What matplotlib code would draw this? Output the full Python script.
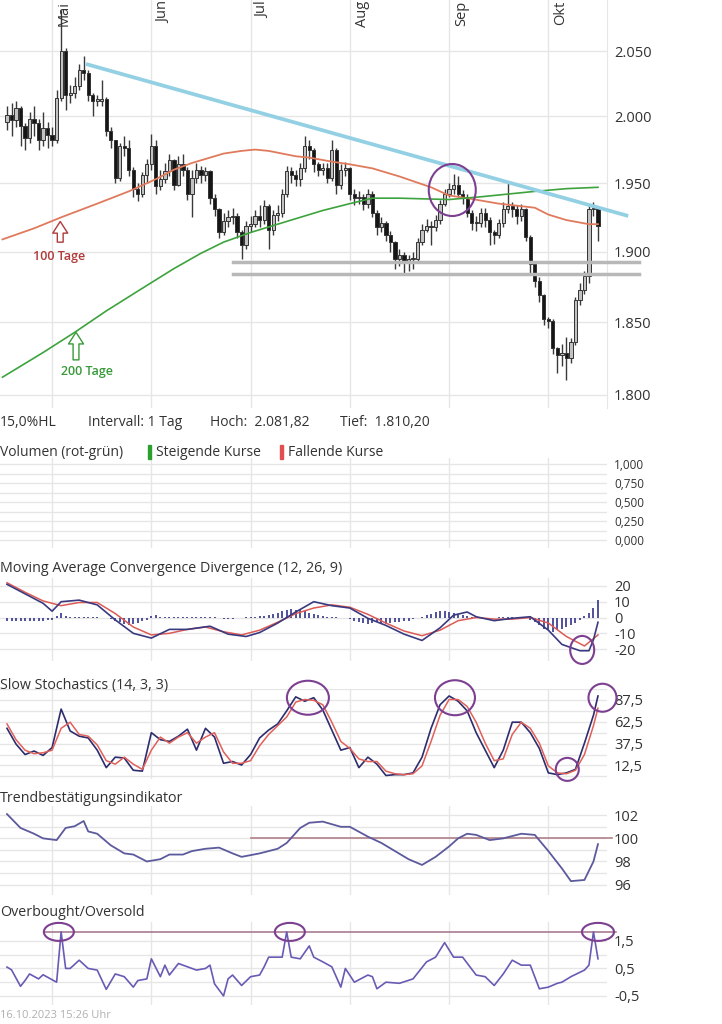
import matplotlib
matplotlib.use("Agg")
import matplotlib.pyplot as plt
from matplotlib.patches import Ellipse, Rectangle
from matplotlib.transforms import IdentityTransform

plt.rcParams['font.family'] = ['Open Sans', 'DejaVu Sans']

# Tageskerzen, Index 0 = erster Handelstag im Chart (Mitte April 2023)
first_open = 1996
close_px = [2001, 1997, 2006, 1993, 1984, 1998, 1995, 1982, 1991, 1986,
            1982, 2014, 2050, 2016, 2018, 2023, 2035, 2033, 2016, 2012,
            2012, 2013, 1989, 1982, 1954, 1978, 1976, 1960, 1946, 1942,
            1956, 1964, 1978, 1948, 1953, 1959, 1967, 1949, 1964, 1960,
            1942, 1954, 1960, 1956, 1959, 1939, 1931, 1914, 1922, 1925,
            1926, 1914, 1905, 1919, 1920, 1926, 1923, 1933, 1916, 1927,
            1928, 1942, 1959, 1956, 1953, 1961, 1978, 1975, 1964, 1960,
            1961, 1954, 1975, 1949, 1960, 1961, 1942, 1939, 1940, 1935,
            1942, 1928, 1918, 1921, 1912, 1907, 1895, 1898, 1893, 1895,
            1895, 1907, 1916, 1919, 1918, 1923, 1935, 1942, 1946, 1949,
            1942, 1940, 1928, 1921, 1921, 1928, 1923, 1914, 1912, 1921,
            1931, 1933, 1931, 1926, 1931, 1911, 1891, 1879, 1869, 1852,
            1851, 1832, 1827, 1829, 1825, 1836, 1866, 1873, 1883, 1931,
            1932, 1919]
high_px = [2008, 2010, 2012, 2008, 1995, 2003, 2008, 1998, 2003, 1996,
           1992, 2020, 2081.82, 2052, 2024, 2030, 2040, 2046, 2035, 2018,
           2016, 2028, 2015, 1992, 1982, 1980, 1985, 1982, 1962, 1950,
           1958, 1968, 1987, 1982, 1960, 1965, 1972, 1968, 1970, 1972,
           1962, 1960, 1965, 1963, 1962, 1960, 1942, 1932, 1928, 1930,
           1932, 1928, 1916, 1922, 1926, 1930, 1934, 1938, 1935, 1930,
           1934, 1946, 1963, 1962, 1960, 1965, 1985, 1982, 1976, 1966,
           1965, 1965, 1982, 1976, 1964, 1966, 1962, 1946, 1944, 1942,
           1946, 1944, 1930, 1925, 1922, 1915, 1908, 1902, 1900, 1898,
           1900, 1910, 1920, 1924, 1922, 1927, 1938, 1946, 1950, 1957,
           1955, 1945, 1942, 1930, 1926, 1932, 1932, 1925, 1916, 1924,
           1936, 1950, 1936, 1934, 1935, 1932, 1912, 1893, 1882, 1870,
           1854, 1852, 1833, 1835, 1840, 1839, 1868, 1878, 1886, 1935,
           1936, 1932]
low_px = [1990, 1985, 1992, 1978, 1975, 1980, 1985, 1975, 1978, 1976,
          1978, 1980, 2012, 2005, 2010, 2014, 2020, 2028, 2012, 2000,
          2008, 2008, 1985, 1976, 1950, 1952, 1970, 1955, 1940, 1937,
          1940, 1950, 1960, 1942, 1945, 1950, 1955, 1945, 1948, 1955,
          1938, 1925, 1950, 1950, 1952, 1935, 1926, 1910, 1912, 1918,
          1920, 1910, 1895, 1902, 1914, 1918, 1918, 1920, 1902, 1912,
          1922, 1925, 1940, 1950, 1948, 1948, 1958, 1968, 1958, 1955,
          1956, 1950, 1952, 1942, 1946, 1955, 1938, 1934, 1935, 1930,
          1932, 1925, 1912, 1914, 1908, 1900, 1888, 1890, 1884, 1886,
          1888, 1892, 1905, 1914, 1905, 1915, 1920, 1933, 1940, 1942,
          1940, 1935, 1925, 1916, 1915, 1918, 1918, 1905, 1906, 1910,
          1918, 1928, 1925, 1920, 1922, 1908, 1885, 1875, 1864, 1848,
          1846, 1828, 1815, 1820, 1810.2, 1822, 1834, 1862, 1870, 1878,
          1926, 1908]

months = ['Mai', 'Jun', 'Jul', 'Aug', 'Sep', 'Okt']
month_pos = [10, 32, 54, 76, 98, 120]

ma100_idx = [-1, 6, 12, 20, 27, 33, 37, 41, 45, 48, 52, 55, 58, 61, 64, 67, 72, 76, 81, 87,
             94, 98, 102, 109, 117, 120, 124, 129, 131]
ma100 = [1909, 1917, 1925, 1935, 1944, 1953, 1960, 1965, 1969, 1972, 1974, 1975, 1974, 1972, 1970, 1969, 1966, 1964, 1961, 1955,
         1947, 1941, 1939, 1935, 1932, 1927, 1923, 1920, 1920]
ma200_idx = [-1, 8, 15, 22, 30, 37, 43, 48, 54, 60, 65, 70, 76, 81, 87, 98, 105, 111, 117, 124, 131]
ma200 = [1812, 1829, 1843, 1858, 1874, 1888, 1899, 1907, 1914, 1920, 1925, 1930, 1935, 1939, 1939, 1938, 1940, 1942, 1944, 1946, 1947]
trend_idx = [17.5, 137.7]
trend_val = [2040, 1926]
support_val = [1893, 1884]
support_span = [50, 140]
price_ticks = [1800, 1850, 1900, 1950, 2000, 2050]

# MACD (12, 26, 9)
macd_idx = [0, 4, 8, 10, 12, 16, 20, 24, 28, 32, 36, 40, 45, 49, 53, 56, 60, 64, 68, 72,
            76, 80, 84, 88, 92, 96, 99, 102, 104, 108, 112, 116, 120, 123, 127, 129, 130, 131]
macd_line = [21, 15, 9, 4, 10, 11, 8, -1.5, -10, -13, -7.5, -7.5, -5.5, -10.5, -12, -9.5, -3.5, 3.5, 10, 7.5,
             6, -0.5, -5, -10.5, -14.5, -6.5, 1.5, 3.5, 0.5, -2, -0.5, 0.5, -8, -17, -21, -21, -14, -3]
signal_idx = [0, 4, 8, 12, 16, 20, 24, 28, 32, 36, 40, 44, 48, 52, 56, 60, 64, 68, 72, 76,
              80, 84, 88, 92, 96, 100, 104, 108, 112, 116, 120, 124, 128, 131]
signal_line = [22, 16, 10.5, 7.5, 9.5, 9.5, 2.5, -6, -11, -10, -7.5, -6, -9, -11, -8, -3, 2.5, 6, 8, 6.5,
               2, -3.5, -8.5, -11.5, -8, -2, 0, -1, -1, 0, -3.5, -12, -18, -11]
macd_hist = [-2, -2.5, -2.5, -2, -2.5, -2, -2, -2.5, -2, -1.5,
             -1.5, 1, 3, 1, 0.5, 0.3, 0.3, 0.3, 0.3, 0.3,
             0.3, -0.3, -0.5, -1, -2, -3, -4, -4.5, -4, -3.5,
             -2.5, -1.5, 1, 1.5, 0.5, 0.3, 0.3, 0.3, 0.3, 0.5,
             0.3, 0.3, 0.3, 0.3, 0.3, 0.3, 0.3, -0.5, -1, -1,
             -0.8, -0.5, -0.3, 0.3, 0.5, 0.6, 0.8, 1, 1.5, 2,
             3, 4, 5, 5.5, 5, 4.5, 4, 3, 2, 1.5,
             1, 0.5, 0.5, 0.3, -0.3, -0.5, -1, -2, -3, -3.5,
             -4, -3.5, -3, -3.5, -4, -3.5, -3, -3, -2.5, -2,
             -1, -0.3, 0.5, 1.5, 2.5, 3.5, 4, 4, 3.5, 3,
             2, 1.5, 1, 0.5, 0.3, -0.3, -0.5, -0.5, -0.3, 0.3,
             0.5, 0.5, 0.3, -0.3, -0.5, -0.5, -1.5, -3, -5, -7,
             -8, -9, -8, -7, -6, -5, -3.5, -1.5, 1, 3,
             6, 11]

# Slow Stochastics (14, 3, 3)
stoch_idx = list(range(0, 131, 2)) + [131]
stoch_k = [55, 37, 25, 29, 24, 33, 77, 52, 46, 44, 30, 10, 22, 21, 7, 6, 50, 42, 40, 46,
           54, 30, 55, 45, 15, 17, 13, 25, 44, 53, 60, 75, 91, 86, 90, 76, 53, 30, 33, 10,
           22, 14, 1, 2, 2, 4, 22, 55, 82, 92, 86, 75, 50, 30, 10, 30, 62, 62, 50, 32,
           4, 2, 4, 8, 38, 70, 92]
stoch_d = [60, 42, 30, 26, 27, 30, 55, 62, 48, 46, 36, 18, 14, 22, 14, 8, 30, 45, 38, 45,
           50, 38, 45, 50, 28, 15, 15, 18, 35, 48, 58, 68, 85, 88, 87, 82, 62, 40, 32, 20,
           17, 17, 6, 3, 2, 3, 12, 40, 70, 88, 88, 80, 62, 38, 18, 20, 48, 62, 55, 38,
           12, 4, 3, 7, 25, 58, 78]

# Trendbestaetigungsindikator
tbi_idx = [0, 3, 6, 8, 11, 13, 15, 17, 18, 20, 23, 26, 28, 31, 34, 36, 39, 41, 44, 47,
           50, 52, 56, 60, 62, 65, 67, 70, 74, 76, 80, 83, 86, 89, 92, 95, 98, 100, 102, 104,
           107, 110, 114, 117, 120, 123, 125, 128, 130, 131]
tbi = [102.1, 100.9, 100.4, 100, 99.85, 100.9, 101.05, 101.5, 100.6, 100.4,
       99.4, 98.7, 98.6, 98, 98.2, 98.6, 98.6, 98.9, 99.1, 99.2,
       98.7, 98.4, 98.7, 99.1, 99.6, 100.9, 101.35, 101.45, 101, 101,
       100.15, 99.6, 98.9, 98.2, 97.7, 98.4, 99.3, 100, 100.4, 100.3,
       99.85, 100, 100.4, 100.3, 98.9, 97.4, 96.3, 96.4, 98, 99.5]

# Overbought/Oversold
obos_idx = [0, 1, 2, 3, 4, 5, 7, 8, 11, 12, 13, 14, 16, 18, 20, 22, 24, 26, 28, 29,
            31, 32, 34, 35, 36, 38, 40, 42, 44, 45, 46, 48, 49, 50, 52, 54, 56, 57, 58, 61,
            62, 63, 65, 67, 68, 70, 72, 74, 75, 77, 80, 81, 82, 84, 87, 90, 93, 95, 97, 99,
            101, 104, 106, 108, 110, 112, 114, 116, 118, 120, 122, 123, 125, 128, 129, 130, 131]
obos = [0.55, 0.45, 0.15, -0.15, 0.06, 0.3, 0.12, 0.27, 0.0, 1.83, 0.5, 0.5, 0.8, 0.5, 0.44, -0.26, 0.3, 0.2, -0.18, 0.06,
        0.12, 0.85, 0.2, 0.62, 0.26, 0.68, 0.56, 0.44, 0.5, 0.62, -0.06, -0.5, 0.12, 0.26, -0.12, 0.2, 0.26, 0.56, 0.91, 0.91,
        1.83, 0.91, 0.85, 1.32, 0.91, 0.74, 0.56, -0.18, 0.5, 0.0, 0.26, 0.2, -0.24, 0.0, -0.04, 0.12, 0.74, 0.91, 1.44, 0.91,
        0.91, 0.26, 0.2, -0.12, 0.3, 0.8, 0.62, 0.62, -0.24, -0.18, -0.04, 0.0, 0.2, 0.44, 0.62, 1.83, 0.85]
obos_level = 1.83

W, H = 722, 1024
fig = plt.figure(figsize=(W / 100, H / 100), dpi=100)
fig.patch.set_facecolor('white')
GRID = '#e6e6e6'
TXT = '#333333'
RING = '#7d3f91'


def panel(top, bottom, ylim, ticks, labels, grid, size=10):
    ax = fig.add_axes([0, 1 - bottom / H, 607 / W, (bottom - top) / H])
    ax.set_xlim(-1.55, 133.0)
    for s in ax.spines.values():
        s.set_visible(False)
    ax.tick_params(axis='x', bottom=False, labelbottom=False)
    ax.yaxis.tick_right()
    ax.set_ylim(*ylim)
    ax.set_yticks(ticks)
    ax.set_yticklabels(labels)
    ax.tick_params(axis='y', length=0, pad=5, labelsize=size, labelcolor=TXT)
    for m in month_pos:
        ax.axvline(m, color=GRID, lw=1, zorder=0)
    for g in grid:
        ax.axhline(g, color=GRID, lw=1, zorder=0)
    return ax


def ring(ax, x, y, w, h):
    cx, cy = ax.transData.transform((x, y))
    fig.add_artist(Ellipse((cx, cy), w, h, transform=IdentityTransform(),
                           fill=False, ec=RING, lw=1.5, zorder=10))


# ---- Kurs ----
ax_p = fig.add_axes([0, 1 - 408 / H, 607 / W, 408 / H])
ax_p.set_yscale('log')
ax_p.set_xlim(-1.55, 133.0)
ax_p.set_ylim(1791, 2090)
ax_p.set_yticks(price_ticks)
ax_p.set_yticklabels([f"{v:,.0f}".replace(',', '.') for v in price_ticks])
ax_p.minorticks_off()
ax_p.yaxis.tick_right()
ax_p.tick_params(axis='y', length=0, pad=5, labelsize=10.5, labelcolor=TXT)
ax_p.tick_params(axis='x', bottom=False, labelbottom=False)
for k, s in ax_p.spines.items():
    s.set_visible(k == 'right')
ax_p.spines['right'].set_color(GRID)
for v in price_ticks:
    ax_p.axhline(v, color=GRID, lw=1, zorder=0)
for m, name in zip(month_pos, months):
    ax_p.axvline(m, color=GRID, lw=1, zorder=0)
    ax_p.text(m + 1.1, 0.998, name, transform=ax_p.get_xaxis_transform(), rotation=90,
              ha='left', va='top', fontsize=10.5, color=TXT)

idx = list(range(len(close_px)))
opens = [first_open] + close_px[:-1]
bottoms = [min(o, c) for o, c in zip(opens, close_px)]
heights = [max(abs(c - o), 0.8) for o, c in zip(opens, close_px)]
colors = ['#c2c2c2' if c >= o else '#161616' for o, c in zip(opens, close_px)]
ax_p.vlines(idx, low_px, high_px, colors='#3a3a3a', lw=1, zorder=2)
ax_p.bar(idx, heights, bottom=bottoms, width=0.72, color=colors, edgecolor='#333333', linewidth=0.7, zorder=3)

ax_p.plot(ma100_idx, ma100, color='#e07a5c', lw=1.3, zorder=4)
ax_p.plot(ma200_idx, ma200, color='#3da33d', lw=1.2, zorder=4)
ax_p.plot(trend_idx, trend_val, color='#94d0e4', lw=2.7, zorder=5, clip_on=False, solid_capstyle='butt')
for v in support_val:
    ax_p.plot(support_span, [v, v], color='#b8b8b8', lw=2.5, zorder=4, clip_on=False)

arrow_kw = 'simple,head_length=0.7,head_width=0.9,tail_width=0.35'
ax_p.annotate('', xy=(11.8, 1924), xytext=(11.8, 1905),
              arrowprops=dict(arrowstyle=arrow_kw, fc='white', ec='#b03a3a', lw=1, mutation_scale=12))
ax_p.text(11.5, 1897, '100 Tage', ha='center', va='center', fontsize=9, color='#b03a3a', fontweight='semibold')
ax_p.annotate('', xy=(15.3, 1845), xytext=(15.3, 1822),
              arrowprops=dict(arrowstyle=arrow_kw, fc='white', ec='#3a9a3a', lw=1, mutation_scale=12))
ax_p.text(17.7, 1816, '200 Tage', ha='center', va='center', fontsize=9, color='#3a9a3a', fontweight='semibold')

# ---- Kopfzeilen ----
def ftext(x, y, s, size=10, **kw):
    fig.text(x / W, 1 - y / H, s, va='center', ha='left', fontsize=size, color=TXT, **kw)


ftext(0, 423, '15,0%HL')
ftext(88, 423, 'Intervall: 1 Tag')
ftext(210, 423, 'Hoch:  2.081,82')
ftext(340, 423, 'Tief:  1.810,20')
ftext(0, 452, 'Volumen (rot-grün)')
fig.add_artist(Rectangle((148 / W, 1 - 459 / H), 3 / W, 14 / H, transform=fig.transFigure, color='#2ca02c'))
ftext(156, 452, 'Steigende Kurse')
fig.add_artist(Rectangle((280 / W, 1 - 459 / H), 3 / W, 14 / H, transform=fig.transFigure, color='#e05050'))
ftext(288, 452, 'Fallende Kurse')

# ---- Volumen (leer) ----
vol_ticks = [0, 0.25, 0.5, 0.75, 1.0]
panel(458, 548, (-0.105, 1.08), vol_ticks, [f"{v:.3f}".replace('.', ',') for v in vol_ticks],
      [i * 0.125 for i in range(9)], size=8.5)

# ---- MACD ----
ftext(0, 568, 'Moving Average Convergence Divergence (12, 26, 9)', size=10.3)
macd_ticks = [-20, -10, 0, 10, 20]
ax_m = panel(578, 661, (-27.5, 25), macd_ticks, [str(v) for v in macd_ticks], macd_ticks, size=10.5)
ax_m.vlines(idx, 0, macd_hist, colors='#34348a', lw=1.2, zorder=2)
ax_m.plot(signal_idx, signal_line, color='#dd5a55', lw=1.1, zorder=3)
ax_m.plot(macd_idx, macd_line, color='#3a3a80', lw=1.2, zorder=4)

# ---- Slow Stochastics ----
ftext(0, 686, 'Slow Stochastics (14, 3, 3)', size=10.3)
st_ticks = [12.5, 37.5, 62.5, 87.5]
ax_s = panel(689, 779, (-3, 100), st_ticks, [f"{v}".replace('.', ',') for v in st_ticks],
             [12.5 * i for i in range(9)], size=10.5)
ax_s.plot(stoch_idx, stoch_k, color='#2d2d6e', lw=1.2, zorder=3)
ax_s.plot(stoch_idx, stoch_d, color='#e0605a', lw=1.1, zorder=4)

# ---- Trendbestaetigungsindikator ----
ftext(0, 798, 'Trendbestätigungsindikator', size=10.3)
tb_ticks = [96, 98, 100, 102]
ax_t = panel(806, 895, (95.1, 102.8), tb_ticks, [str(v) for v in tb_ticks], [96, 97, 98, 99, 100, 101, 102],
             size=10.5)
ax_t.plot([54, 134], [100, 100], color='#b08088', lw=1.2, zorder=2, clip_on=False)
ax_t.plot(tbi_idx, tbi, color='#5c5a9c', lw=1.3, zorder=3)

# ---- Overbought/Oversold ----
ftext(0, 913, 'Overbought/Oversold', size=10.3)
ob_ticks = [-0.5, 0.5, 1.5]
ax_o = panel(922, 1005, (-0.83, 2.19), ob_ticks, [f"{v}".replace('.', ',') for v in ob_ticks],
             [-0.5, 0, 0.5, 1.0, 1.5], size=10.5)
ax_o.plot([8.5, 135], [obos_level, obos_level], color='#a07088', lw=1.1, zorder=2, clip_on=False)
ax_o.plot(obos_idx, obos, color='#6a5ab4', lw=1.2, zorder=3)

fig.text(0, 1 - 1016 / H, '16.10.2023 15:26 Uhr', va='center', ha='left', fontsize=8, color='#b0b0b0')

# ---- Markierungen ----
ring(ax_p, 98.7, 1945, 47, 52)
ring(ax_m, 127.5, -20.5, 24, 28)
ring(ax_s, 66.7, 90, 42, 34)
ring(ax_s, 99.3, 90, 40, 35)
ring(ax_s, 124.2, 8, 23, 23)
ring(ax_s, 132, 90, 28, 28)
ring(ax_o, 11.5, obos_level, 30, 18)
ring(ax_o, 62.7, obos_level, 30, 18)
ring(ax_o, 131, obos_level, 32, 18)

fig.savefig('out.png', dpi=100)
